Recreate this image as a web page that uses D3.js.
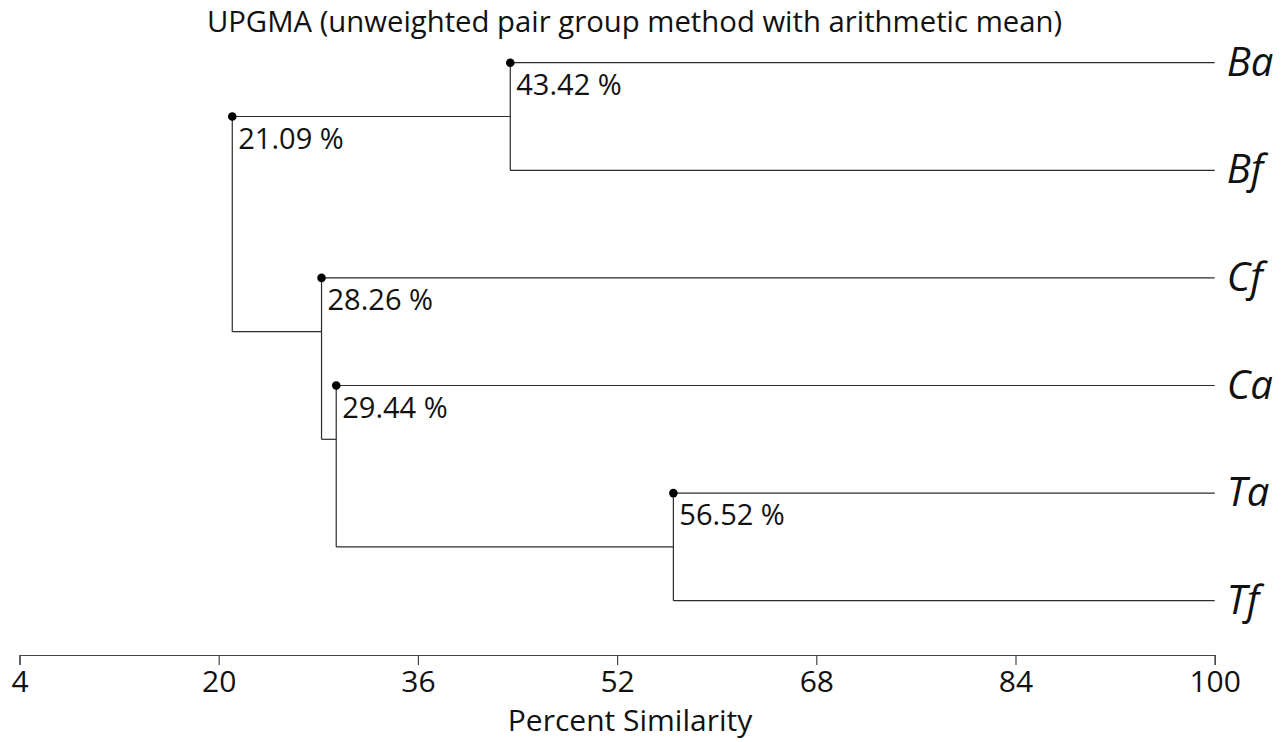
<!DOCTYPE html>
<html>
<head>
<meta charset="utf-8">
<script src="https://cdn.jsdelivr.net/npm/d3@7"></script>
<style>
  html, body { margin: 0; padding: 0; background: #fff; }
  svg { display: block; font-family: "Open Sans", sans-serif; }
</style>
</head>
<body>
<svg id="chart" width="1285" height="742"></svg>
<script>
// ---- data ----
const leaves = ["Ba", "Bf", "Cf", "Ca", "Ta", "Tf"];
const nodeNames = ["n1", "n2", "n3", "n4", "n5"];
const nodeTop = ["Ba", "Ta", "Ca", "Cf", "n1"];
const nodeBottom = ["Bf", "Tf", "n2", "n3", "n4"];
const nodeSimilarity = [43.42, 56.52, 29.44, 28.26, 21.09];
const tickValues = [4, 20, 36, 52, 68, 84, 100];
const leafValue = 100;
const title = "UPGMA (unweighted pair group method with arithmetic mean)";
const xTitle = "Percent Similarity";

// ---- layout ----
const svg = d3.select("#chart");
const x = d3.scaleLinear().domain([4, 100]).range([19.5, 1214.7]);
const y = d3.scalePoint().domain(leaves).range([62.7, 600.7]);
const axisY = 655;
const lineColor = "#2b2b2b";

// compute node positions
const info = {};
leaves.forEach(l => { info[l] = { x: x(leafValue), dotY: y(l), connY: y(l), leaf: true }; });
nodeNames.forEach((n, i) => {
  const t = info[nodeTop[i]], b = info[nodeBottom[i]];
  const nx = x(nodeSimilarity[i]);
  const dotY = t.connY;
  info[n] = { x: nx, dotY: dotY, connY: (dotY + b.dotY) / 2, sim: nodeSimilarity[i], top: nodeTop[i], bottom: nodeBottom[i] };
});

const g = svg.append("g");

nodeNames.forEach((n) => {
  const node = info[n];
  [node.top, node.bottom].forEach(c => {
    const ch = info[c];
    g.append("line")
      .attr("x1", node.x).attr("x2", ch.x)
      .attr("y1", ch.connY).attr("y2", ch.connY)
      .attr("stroke", lineColor).attr("stroke-width", 1.2);
  });
  g.append("line")
    .attr("x1", node.x).attr("x2", node.x)
    .attr("y1", node.dotY).attr("y2", info[node.bottom].connY)
    .attr("stroke", lineColor).attr("stroke-width", 1.2);
});

nodeNames.forEach(n => {
  const node = info[n];
  g.append("circle").attr("cx", node.x).attr("cy", node.dotY).attr("r", 4.3).attr("fill", "#000");
  g.append("text")
    .attr("x", node.x + 6).attr("y", node.dotY + 32)
    .attr("font-size", 29).attr("fill", "#111")
    .text(node.sim.toFixed(2) + " %");
});

leaves.forEach(l => {
  g.append("text")
    .attr("x", x(leafValue) + 12).attr("y", y(l) + 13)
    .attr("font-size", 40).attr("font-style", "italic").attr("fill", "#111")
    .text(l);
});

const axis = d3.axisBottom(x).tickValues(tickValues).tickSize(10).tickSizeOuter(10).tickFormat(d3.format("d"));
const ax = svg.append("g").attr("transform", `translate(0,${axisY})`).call(axis);
ax.select(".domain").attr("stroke", "#444").attr("stroke-width", 1.2);
ax.selectAll(".tick line").attr("stroke", "#444").attr("stroke-width", 1.2);
ax.selectAll(".tick text").attr("font-family", "Open Sans, sans-serif").attr("font-size", 30)
  .attr("fill", "#111").attr("y", 37).attr("dy", 0);

svg.append("text").attr("x", 634.5).attr("y", 32).attr("text-anchor", "middle")
  .attr("font-size", 29.3).attr("fill", "#111").text(title);
svg.append("text").attr("x", 630).attr("y", 731).attr("text-anchor", "middle")
  .attr("font-size", 30).attr("fill", "#111").text(xTitle);
</script>
</body>
</html>
